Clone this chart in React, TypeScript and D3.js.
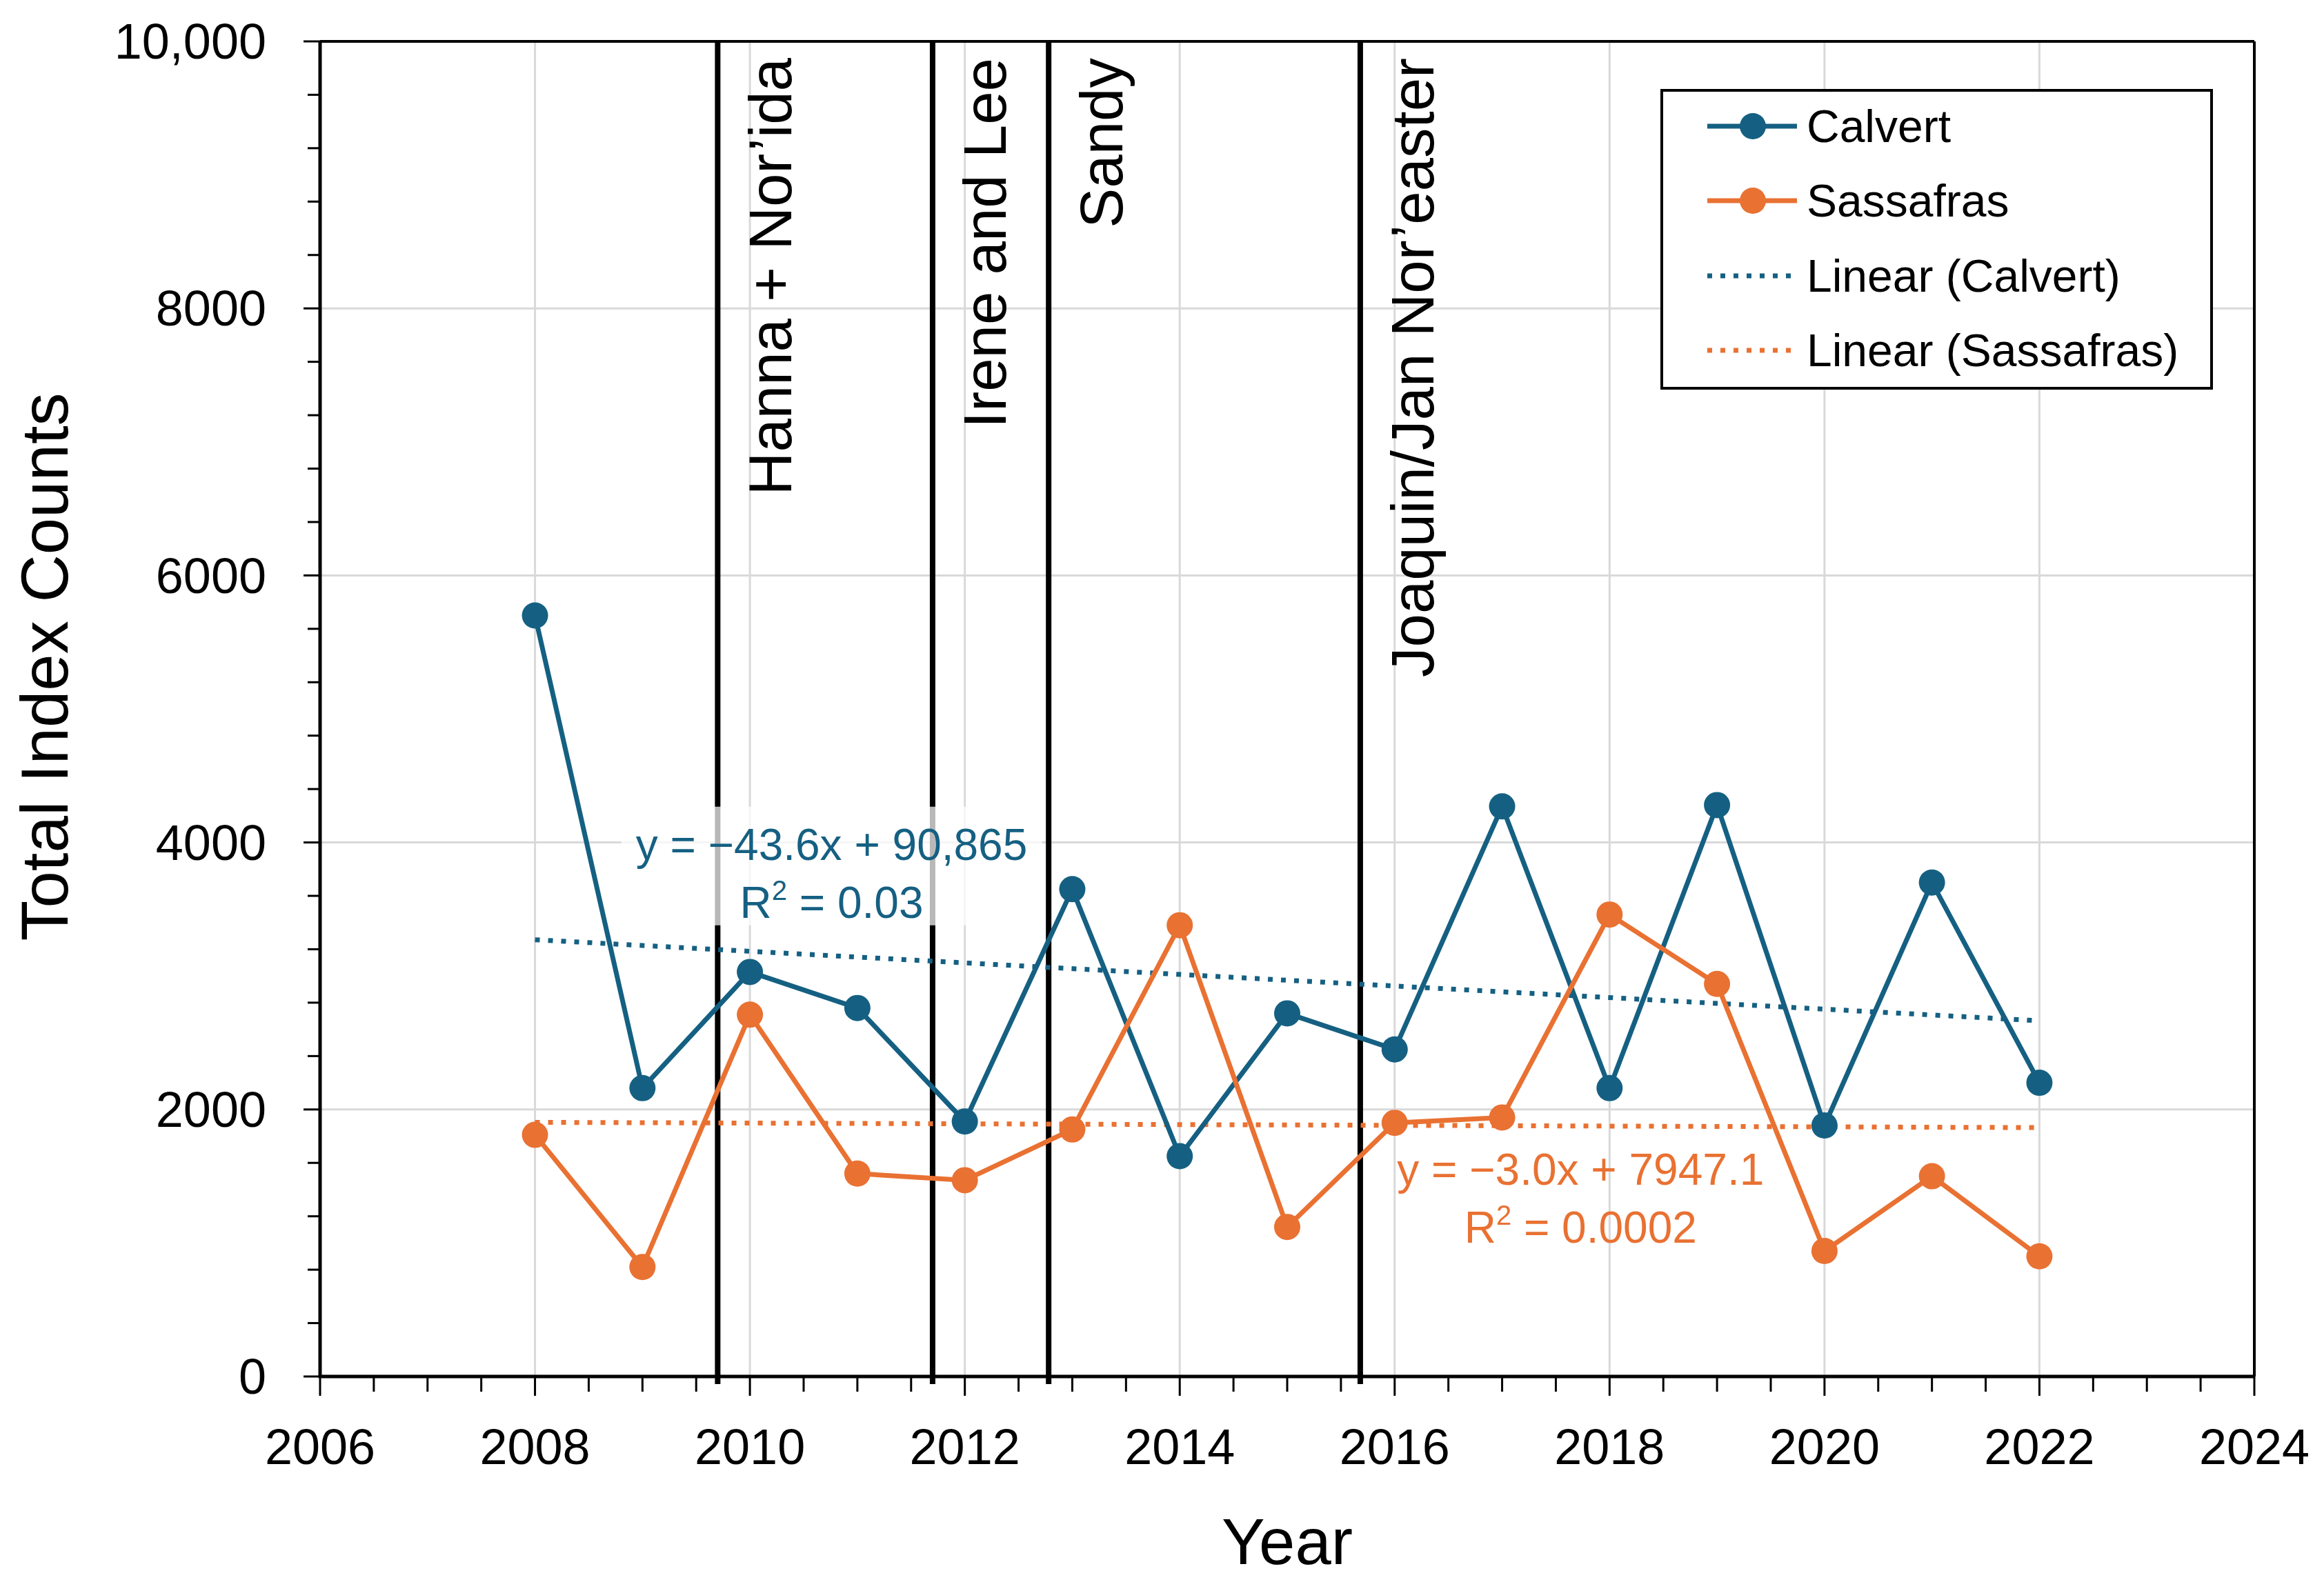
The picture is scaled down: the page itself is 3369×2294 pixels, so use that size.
import { useEffect } from 'react'
import * as d3 from 'd3'

const years = [2008, 2009, 2010, 2011, 2012, 2013, 2014, 2015, 2016, 2017, 2018, 2019, 2020, 2021, 2022]
const calvert = [5700, 2160, 3030, 2760, 1910, 3650, 1650, 2720, 2450, 4270, 2160, 4280, 1880, 3700, 2200]
const sassafras = [1810, 820, 2710, 1520, 1470, 1850, 3380, 1120, 1900, 1940, 3460, 2940, 940, 1500, 900]

const eventYears = [2009.7, 2011.7, 2012.78, 2015.68]
const eventLabels = ['Hanna + Nor’ida', 'Irene and Lee', 'Sandy', 'Joaquin/Jan Nor’easter']

const xTicks = [2006, 2008, 2010, 2012, 2014, 2016, 2018, 2020, 2022, 2024]
const yTicks = [0, 2000, 4000, 6000, 8000, 10000]
const yTickLabels = ['0', '2000', '4000', '6000', '8000', '10,000']

const seriesNames = ['Calvert', 'Sassafras']
const trendNames = ['Linear (Calvert)', 'Linear (Sassafras)']
const equations = ['y = −43.6x + 90,865', 'y = −3.0x + 7947.1']
const r2Values = ['0.03', '0.0002']

const BLUE = '#156082'
const ORANGE = '#E97132'
const FONT = '"Liberation Sans", Arial, sans-serif'

function fit(xs: number[], ys: number[]) {
  const mx = d3.mean(xs)!
  const my = d3.mean(ys)!
  const num = d3.sum(xs, (x, i) => (x - mx) * (ys[i] - my))
  const den = d3.sum(xs, x => (x - mx) ** 2)
  const slope = num / den
  return (x: number) => my + slope * (x - mx)
}

export default function App() {
  useEffect(() => {
    document.body.style.margin = '0'
  }, [])

  const W = 3369
  const H = 2294
  const left = 464, right = 3268, top = 60, bottom = 1996

  const x = d3.scaleLinear().domain([2006, 2024]).range([left, right])
  const y = d3.scaleLinear().domain([0, 10000]).range([bottom, top])

  const minorX = d3.range(2006, 2024.01, 0.5)
  const minorY = d3.range(0, 10001, 400)

  const line = d3.line<number>().x((_, i) => x(years[i])).y(d => y(d))

  const series = [
    { vals: calvert, color: BLUE },
    { vals: sassafras, color: ORANGE },
  ]

  const trends = series.map(s => {
    const f = fit(years, s.vals)
    const x0 = years[0], x1 = years[years.length - 1]
    return { x1: x(x0), y1: y(f(x0)), x2: x(x1), y2: y(f(x1)), color: s.color }
  })

  // equation label anchors (centre x, first baseline) in data units
  const eqPos = [
    { cx: x(2010.76), by: y(3870), color: BLUE },
    { cx: x(2017.73), by: y(1436), color: ORANGE },
  ]

  return (
    <svg width={W} height={H} style={{ display: 'block', background: '#fff' }} fontFamily={FONT}>
      {/* gridlines */}
      {xTicks.slice(1, -1).map(t => (
        <line key={'gx' + t} x1={x(t)} x2={x(t)} y1={top} y2={bottom} stroke="#d9d9d9" strokeWidth={3} />
      ))}
      {yTicks.slice(1, -1).map(t => (
        <line key={'gy' + t} x1={left} x2={right} y1={y(t)} y2={y(t)} stroke="#d9d9d9" strokeWidth={3} />
      ))}

      {/* event lines */}
      {eventYears.map((e, i) => (
        <g key={'ev' + i}>
          <line x1={x(e)} x2={x(e)} y1={top} y2={bottom + 11} stroke="#000" strokeWidth={8} />
          <text
            transform={`translate(${x(e) + 76},${top + 24}) rotate(-90)`}
            textAnchor="end"
            dy="0.35em"
            fontSize={87}
            fill="#000"
          >
            {eventLabels[i]}
          </text>
        </g>
      ))}

      {/* translucent box behind Calvert equation */}
      <rect
        x={eqPos[0].cx - 305}
        y={eqPos[0].by - 77}
        width={610}
        height={172}
        fill="#fff"
        opacity={0.72}
      />

      {/* trendlines */}
      {trends.map((t, i) => (
        <line key={'tr' + i} x1={t.x1} y1={t.y1} x2={t.x2} y2={t.y2} stroke={t.color} strokeWidth={7} strokeDasharray="7 12" />
      ))}

      {/* series */}
      {series.map((s, si) => (
        <g key={'s' + si}>
          <path d={line(s.vals) || ''} fill="none" stroke={s.color} strokeWidth={7} strokeLinejoin="round" />
          {s.vals.map((v, i) => (
            <circle key={i} cx={x(years[i])} cy={y(v)} r={19} fill={s.color} />
          ))}
        </g>
      ))}

      {/* equation labels */}
      {eqPos.map((p, i) => (
        <g key={'eq' + i} fill={p.color} fontSize={64} textAnchor="middle">
          <text x={p.cx} y={p.by}>{equations[i]}</text>
          <text x={p.cx} y={p.by + 84}>
            <tspan>R</tspan>
            <tspan dy={-26} fontSize={40}>2</tspan>
            <tspan dy={26}> = {r2Values[i]}</tspan>
          </text>
        </g>
      ))}

      {/* frame */}
      <line x1={left} x2={right} y1={top} y2={top} stroke="#000" strokeWidth={4} />
      <line x1={right} x2={right} y1={top} y2={bottom} stroke="#000" strokeWidth={4} />
      <line x1={left} x2={left} y1={top} y2={bottom + 2} stroke="#000" strokeWidth={5} />
      <line x1={left - 2} x2={right} y1={bottom} y2={bottom} stroke="#000" strokeWidth={5} />

      {/* x ticks */}
      {minorX.map(t => (
        <line key={'tx' + t} x1={x(t)} x2={x(t)} y1={bottom} y2={bottom + (t % 2 === 0 ? 28 : 22)} stroke="#000" strokeWidth={3} />
      ))}
      {xTicks.map(t => (
        <text key={'lx' + t} x={x(t)} y={bottom + 127} textAnchor="middle" fontSize={72} fill="#000">
          {t}
        </text>
      ))}

      {/* y ticks */}
      {minorY.map(t => (
        <line key={'ty' + t} x1={left - (t % 2000 === 0 ? 24 : 18)} x2={left} y1={y(t)} y2={y(t)} stroke="#000" strokeWidth={3} />
      ))}
      {yTicks.map((t, i) => (
        <text key={'ly' + t} x={left - 78} y={y(t)} dy="0.35em" textAnchor="end" fontSize={72} fill="#000">
          {yTickLabels[i]}
        </text>
      ))}

      {/* axis titles */}
      <text x={(left + right) / 2} y={2268} textAnchor="middle" fontSize={94} fill="#000">Year</text>
      <text transform={`translate(64,967) rotate(-90)`} dy="0.35em" textAnchor="middle" fontSize={96} fill="#000">
        Total Index Counts
      </text>

      {/* legend */}
      <g>
        <rect x={2409} y={131} width={797} height={432} fill="#fff" stroke="#000" strokeWidth={4} />
        {seriesNames.map((n, i) => {
          const ry = 183 + i * 108
          const c = i === 0 ? BLUE : ORANGE
          return (
            <g key={'lg' + i}>
              <line x1={2475} x2={2605} y1={ry} y2={ry} stroke={c} strokeWidth={7} />
              <circle cx={2541} cy={ry} r={19} fill={c} />
              <text x={2619} y={ry} dy="0.35em" fontSize={66} fill="#000">{n}</text>
            </g>
          )
        })}
        {trendNames.map((n, i) => {
          const ry = 400 + i * 108
          const c = i === 0 ? BLUE : ORANGE
          return (
            <g key={'lt' + i}>
              <line x1={2475} x2={2600} y1={ry} y2={ry} stroke={c} strokeWidth={7} strokeDasharray="7 12" />
              <text x={2619} y={ry} dy="0.35em" fontSize={66} fill="#000">{n}</text>
            </g>
          )
        })}
      </g>
    </svg>
  )
}
